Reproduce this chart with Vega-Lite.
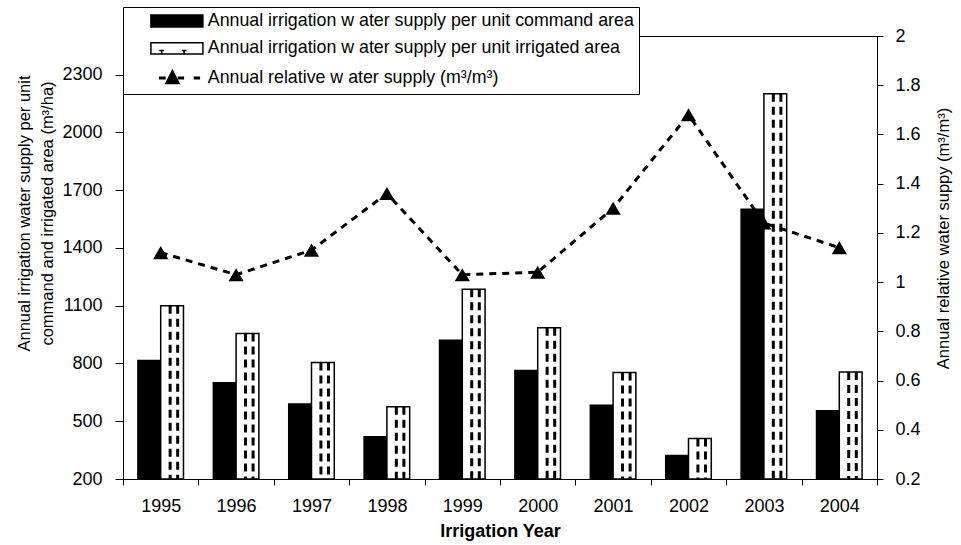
{
  "$schema": "https://vega.github.io/schema/vega-lite/v6.json",
  "autosize": {"type": "none"},
  "padding": {"left": 123, "top": 36, "right": 84, "bottom": 66},
  "width": 754,
  "height": 443,
  "background": "white",
  "config": {
    "font": "Liberation Sans",
    "view": {"stroke": "black", "strokeWidth": 1},
    "axis": {"grid": false, "domainColor": "black", "domainWidth": 1, "tickColor": "black", "labelColor": "black", "titleColor": "black", "labelFont": "Liberation Sans", "titleFont": "Liberation Sans"}
  },
  "data": {
    "values": [
      {"year": "1995", "series": "Annual irrigation w ater supply per unit command area", "value": 815},
      {"year": "1996", "series": "Annual irrigation w ater supply per unit command area", "value": 700},
      {"year": "1997", "series": "Annual irrigation w ater supply per unit command area", "value": 590},
      {"year": "1998", "series": "Annual irrigation w ater supply per unit command area", "value": 420},
      {"year": "1999", "series": "Annual irrigation w ater supply per unit command area", "value": 920},
      {"year": "2000", "series": "Annual irrigation w ater supply per unit command area", "value": 763},
      {"year": "2001", "series": "Annual irrigation w ater supply per unit command area", "value": 583},
      {"year": "2002", "series": "Annual irrigation w ater supply per unit command area", "value": 322},
      {"year": "2003", "series": "Annual irrigation w ater supply per unit command area", "value": 1600},
      {"year": "2004", "series": "Annual irrigation w ater supply per unit command area", "value": 554},
      {"year": "1995", "series": "Annual irrigation w ater supply per unit irrigated area", "value": 1100},
      {"year": "1996", "series": "Annual irrigation w ater supply per unit irrigated area", "value": 955},
      {"year": "1997", "series": "Annual irrigation w ater supply per unit irrigated area", "value": 805},
      {"year": "1998", "series": "Annual irrigation w ater supply per unit irrigated area", "value": 575},
      {"year": "1999", "series": "Annual irrigation w ater supply per unit irrigated area", "value": 1185},
      {"year": "2000", "series": "Annual irrigation w ater supply per unit irrigated area", "value": 985},
      {"year": "2001", "series": "Annual irrigation w ater supply per unit irrigated area", "value": 753},
      {"year": "2002", "series": "Annual irrigation w ater supply per unit irrigated area", "value": 410},
      {"year": "2003", "series": "Annual irrigation w ater supply per unit irrigated area", "value": 2200},
      {"year": "2004", "series": "Annual irrigation w ater supply per unit irrigated area", "value": 755},
      {"year": "1995", "series": "Annual relative w ater supply (m³/m³)", "value": 1.12},
      {"year": "1996", "series": "Annual relative w ater supply (m³/m³)", "value": 1.03},
      {"year": "1997", "series": "Annual relative w ater supply (m³/m³)", "value": 1.13},
      {"year": "1998", "series": "Annual relative w ater supply (m³/m³)", "value": 1.36},
      {"year": "1999", "series": "Annual relative w ater supply (m³/m³)", "value": 1.03},
      {"year": "2000", "series": "Annual relative w ater supply (m³/m³)", "value": 1.04},
      {"year": "2001", "series": "Annual relative w ater supply (m³/m³)", "value": 1.30},
      {"year": "2002", "series": "Annual relative w ater supply (m³/m³)", "value": 1.68},
      {"year": "2003", "series": "Annual relative w ater supply (m³/m³)", "value": 1.24},
      {"year": "2004", "series": "Annual relative w ater supply (m³/m³)", "value": 1.14}
    ]
  },
  "encoding": {
    "x": {
      "field": "year", "type": "nominal",
      "scale": {"paddingInner": 0, "paddingOuter": 0},
      "axis": {"labelAngle": 0, "labelFontSize": 18, "labelPadding": 12, "tickSize": 6, "tickBand": "extent", "title": "Irrigation Year", "titleFontSize": 18, "titleFontWeight": "bold", "titlePadding": 7}
    }
  },
  "layer": [
    {
      "layer": [
        {
          "transform": [{"filter": "datum.series !== 'Annual relative w ater supply (m³/m³)'"}],
          "mark": {"type": "bar", "stroke": "black", "strokeWidth": 1.5},
          "encoding": {
            "xOffset": {"field": "series", "type": "nominal", "scale": {"domain": ["Annual irrigation w ater supply per unit command area", "Annual irrigation w ater supply per unit irrigated area"], "paddingInner": 0, "paddingOuter": 0.655}},
            "y": {"field": "value", "type": "quantitative", "scale": {"domain": [200, 2500], "zero": false, "nice": false},
              "axis": {"values": [200, 500, 800, 1100, 1400, 1700, 2000, 2300], "format": "d", "labelFontSize": 18, "tickSize": 8, "labelPadding": 13,
                "title": ["Annual irrigation water supply per unit", "command and irrigated area (m³/ha)"], "titleFontSize": 16.5, "titleFontWeight": "normal", "titleLineHeight": 23, "titleAngle": 270, "titleBaseline": "bottom", "titleAlign": "center", "titleX": -91, "titleY": 177}},
            "y2": {"datum": 200},
            "fill": {"field": "series", "type": "nominal", "scale": {"domain": ["Annual irrigation w ater supply per unit command area", "Annual irrigation w ater supply per unit irrigated area"], "range": ["black", "white"]}, "legend": null}
          }
        },
        {
          "transform": [{"filter": "datum.series === 'Annual irrigation w ater supply per unit irrigated area'"}],
          "mark": {"type": "rule", "color": "black", "strokeWidth": 3, "strokeDash": [8, 5]},
          "encoding": {
            "xOffset": {"field": "series", "type": "nominal", "scale": {"domain": ["Annual irrigation w ater supply per unit command area", "Annual irrigation w ater supply per unit irrigated area"], "paddingInner": 0, "paddingOuter": 2.145}},
            "y": {"field": "value", "type": "quantitative"},
            "y2": {"datum": 200}
          }
        },
        {
          "transform": [{"filter": "datum.series === 'Annual irrigation w ater supply per unit irrigated area'"}],
          "mark": {"type": "rule", "color": "black", "strokeWidth": 3, "strokeDash": [8, 5]},
          "encoding": {
            "xOffset": {"field": "series", "type": "nominal", "scale": {"domain": ["Annual irrigation w ater supply per unit command area", "Annual irrigation w ater supply per unit irrigated area"], "paddingInner": 0, "paddingOuter": 0.11}},
            "y": {"field": "value", "type": "quantitative"},
            "y2": {"datum": 200}
          }
        }
      ],
      "resolve": {"scale": {"xOffset": "independent"}}
    },
    {
      "transform": [{"filter": "datum.series === 'Annual relative w ater supply (m³/m³)'"}],
      "layer": [
        {
          "mark": {"type": "line", "color": "black", "strokeWidth": 3, "strokeDash": [7, 6]},
          "encoding": {
            "y": {"field": "value", "type": "quantitative", "scale": {"domain": [0.2, 2], "zero": false, "nice": false},
              "axis": {"orient": "right", "values": [0.2, 0.4, 0.6, 0.8, 1, 1.2, 1.4, 1.6, 1.8, 2], "format": ".1~f", "labelFontSize": 18, "tickSize": 6, "labelPadding": 12,
                "title": "Annual relative water suppy (m³/m³)", "titleFontSize": 16.5, "titleFontWeight": "normal", "titleAngle": 270, "titleBaseline": "bottom", "titleAlign": "center", "titleX": 74, "titleY": 202}}
          }
        },
        {
          "mark": {"type": "point", "filled": true, "color": "black", "size": 230, "opacity": 1, "shape": "triangle-up"},
          "encoding": {
            "y": {"field": "value", "type": "quantitative"}
          }
        },
        {
          "mark": {"type": "point", "filled": true, "color": "black", "size": 256, "opacity": 0},
          "encoding": {
            "y": {"field": "value", "type": "quantitative"},
            "shape": {
              "field": "series", "type": "nominal",
              "scale": {"domain": ["Annual irrigation w ater supply per unit command area", "Annual irrigation w ater supply per unit irrigated area", "Annual relative w ater supply (m³/m³)"],
                "range": ["M-3.25,-0.75H3.25V0.75H-3.25Z", "M-3.25,-0.7H3.25V0.7H-3.25ZM-1.9,0.7V0.25M-2.2,0.25H-1.6M0.9,0.7V0.25M0.6,0.25H1.2", "M-2.25,0H-1.4M0.1,0H0.9M2.1,0H2.9M-1.25,0.62L-0.56,-0.72L0.12,0.62Z"]},
              "legend": {
                "title": null, "orient": "none", "legendX": 0, "legendY": -29, "direction": "vertical", "zindex": 1,
                "fillColor": "white", "strokeColor": "black", "padding": 5, "cornerRadius": 0,
                "labelFont": "Liberation Sans", "labelFontSize": 17.8, "labelColor": "black", "labelLimit": 700,
                "symbolSize": 256, "symbolOffset": 40, "labelOffset": 22, "rowPadding": 8.5,
                "encoding": {
                  "symbols": {
                    "fill": {"value": {"expr": "datum.value === 'Annual irrigation w ater supply per unit irrigated area' ? 'white' : 'black'"}},
                    "stroke": {"value": "black"},
                    "strokeWidth": {"value": {"expr": "datum.value === 'Annual relative w ater supply (m³/m³)' ? 3 : 1.5"}},
                    "size": {"value": 256},
                    "opacity": {"value": 1},
                    "fillOpacity": {"value": 1},
                    "strokeOpacity": {"value": 1}
                  }
                }
              }
            }
          }
        }
      ]
    }
  ],
  "resolve": {"scale": {"y": "independent"}}
}
